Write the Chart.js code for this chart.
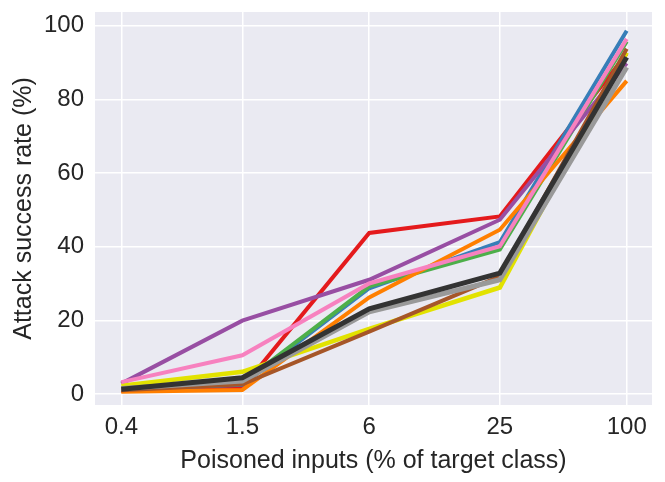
<!DOCTYPE html>
<html>
<head>
<meta charset="utf-8">
<script src="https://cdn.jsdelivr.net/npm/chart.js@4"></script>
<style>
  html, body { margin: 0; padding: 0; background: #fff; }
  #wrap { width: 665px; height: 482px; }
</style>
</head>
<body>
<div id="wrap"><canvas id="asr"></canvas></div>
<script>
const poisoned = [0.4, 1.5, 6, 25, 100];
const xTickLabels = ['0.4', '1.5', '6', '25', '100'];
const yTicks = [0, 20, 40, 60, 80, 100];

// one series per line, in plotting order (last one ends up on top)
const red    = [0.8, 1.7, 43.7, 48.2, 92.4];
const blue   = [1.2, 2.5, 28.7, 41.2, 98.6];
const green  = [1.5, 3.0, 29.2, 39.2, 95.7];
const purple = [2.8, 19.9, 31.0, 47.3, 89.8];
const orange = [0.6, 1.1, 26.2, 44.6, 85.0];
const yellow = [2.2, 6.0, 17.7, 28.9, 92.7];
const brown  = [1.0, 2.6, 16.9, 31.9, 93.7];
const pink   = [3.2, 10.5, 30.0, 40.1, 96.4];
const grey   = [1.5, 3.5, 22.3, 31.0, 88.7];
const black  = [1.3, 4.4, 23.1, 32.8, 91.4];

const series = [
  [red, '#e41a1c', 4],
  [blue, '#377eb8', 4],
  [green, '#4daf4a', 4],
  [purple, '#984ea3', 4],
  [orange, '#ff7f00', 4],
  [yellow, '#e2e200', 4.5],
  [brown, '#a65628', 4],
  [pink, '#f781bf', 4],
  [grey, '#999999', 5],
  [black, '#333333', 5]
];

const bgPlugin = {
  id: 'bg',
  beforeDraw(chart) {
    const { ctx, chartArea: a } = chart;
    ctx.save();
    ctx.fillStyle = '#eaeaf2';
    ctx.fillRect(a.left, a.top, a.right - a.left, a.bottom - a.top);
    ctx.restore();
  }
};

const tickFont = { family: '"Liberation Sans", Arial, sans-serif', size: 24 };
const titleFont = { family: '"Liberation Sans", Arial, sans-serif', size: 25 };

new Chart(document.getElementById('asr'), {
  type: 'line',
  data: {
    datasets: series.map((s, i) => ({
      data: poisoned.map((x, j) => ({ x: x, y: s[0][j] })),
      borderColor: s[1],
      borderWidth: s[2],
      pointRadius: 0,
      tension: 0,
      order: series.length - i
    }))
  },
  options: {
    responsive: true,
    maintainAspectRatio: false,
    animation: false,
    layout: { padding: { top: 12, right: 13, left: 0, bottom: 0 } },
    plugins: { legend: { display: false }, tooltip: { enabled: false } },
    scales: {
      x: {
        type: 'logarithmic',
        min: 0.303,
        max: 131.8,
        afterBuildTicks(axis) {
          axis.ticks = poisoned.map(v => ({ value: v }));
        },
        afterFit(axis) {
          axis.height = 77;
          axis.paddingLeft = 0;
          axis.paddingRight = 0;
        },
        ticks: {
          font: tickFont,
          color: '#262626',
          padding: 8,
          maxRotation: 0,
          callback: (v) => xTickLabels[poisoned.indexOf(v)]
        },
        grid: { color: '#ffffff', lineWidth: 1.5, drawTicks: false },
        border: { display: false },
        title: {
          display: true,
          text: 'Poisoned inputs (% of target class)',
          font: titleFont,
          color: '#262626',
          padding: { top: 0, bottom: 6 }
        }
      },
      y: {
        min: -3,
        max: 103.7,
        afterBuildTicks(axis) {
          axis.ticks = yTicks.map(v => ({ value: v }));
        },
        afterFit(axis) {
          axis.width = 95;
          axis.paddingTop = 0;
          axis.paddingBottom = 0;
        },
        ticks: { font: tickFont, color: '#262626', padding: 11 },
        grid: { color: '#ffffff', lineWidth: 1.5, drawTicks: false },
        border: { display: false },
        title: {
          display: true,
          text: 'Attack success rate (%)',
          font: titleFont,
          color: '#262626',
          padding: { top: 9, bottom: 0 }
        }
      }
    }
  },
  plugins: [bgPlugin]
});
</script>
</body>
</html>
